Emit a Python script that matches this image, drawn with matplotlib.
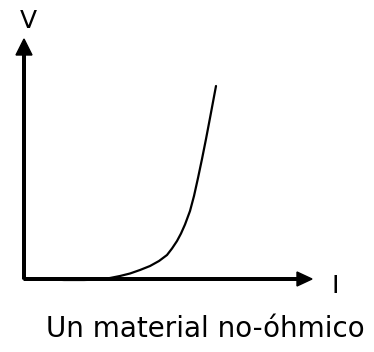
import matplotlib.pyplot as plt

# curva V-I de un material no óhmico
corriente = [0, 20, 40, 60, 75, 86, 96, 106, 116, 126, 135, 143, 148, 153, 157, 161,
             166, 170, 174, 178, 182, 186, 189, 192]
voltaje = [1, 0, -1, -1, -0.5, 1, 3, 5.5, 9, 13, 18, 24, 30.5, 38, 45.5, 54.5,
           68, 83, 101, 120, 140, 161, 177, 193]

fig = plt.figure(figsize=(3.74, 3.52), dpi=100)
ax = fig.add_axes([0, 0, 1, 1])
ax.set_xlim(-24, 350)
ax.set_ylim(-73, 279)
ax.axis("off")

# ejes con flechas
ax.arrow(0, 0, 288, 0, width=2.6, head_width=14, head_length=15,
         length_includes_head=True, fc="black", ec="black")
ax.arrow(0, 0, 0, 240, width=2.6, head_width=16, head_length=16,
         length_includes_head=True, fc="black", ec="black")

ax.plot(corriente, voltaje, color="black", lw=1.6, solid_capstyle="round",
        solid_joinstyle="round")

ax.text(4, 251, "V", fontsize=18, ha="center", va="baseline")
ax.text(311, -14, "I", fontsize=18, ha="center", va="baseline")
ax.text(181, -58, "Un material no-óhmico", fontsize=20, ha="center", va="baseline")

fig.savefig("out.png", dpi=100)
